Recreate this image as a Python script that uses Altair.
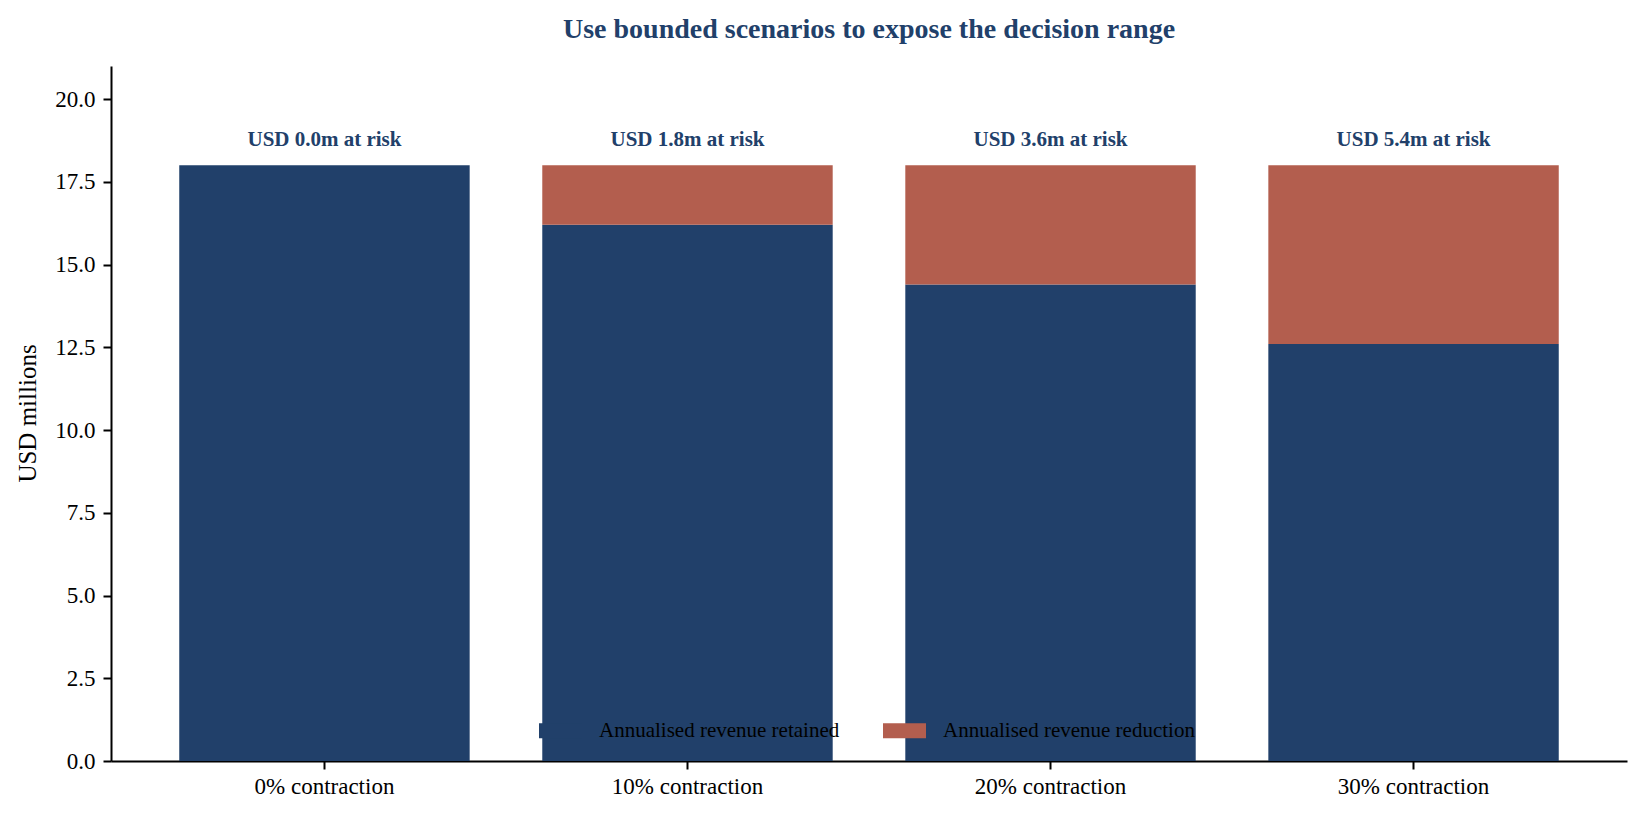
import altair as alt
import pandas as pd

scenarios = ["0% contraction", "10% contraction", "20% contraction", "30% contraction"]
retained = [18.0, 16.2, 14.4, 12.6]
reduction = [0.0, 1.8, 3.6, 5.4]
risk_labels = ["USD 0.0m at risk", "USD 1.8m at risk", "USD 3.6m at risk", "USD 5.4m at risk"]
series = ["Annualised revenue retained", "Annualised revenue reduction"]
y_ticks = [0.0, 2.5, 5.0, 7.5, 10.0, 12.5, 15.0, 17.5, 20.0]

NAVY = "#21406a"
RUST = "#b35e4e"
FONT = "Liberation Serif"

rows = []
for s, r, d in zip(scenarios, retained, reduction):
    rows.append({"scenario": s, "series": series[0], "lo": 0.0, "hi": r})
    rows.append({"scenario": s, "series": series[1], "lo": r, "hi": r + d})
df = pd.DataFrame(rows)
lab_df = pd.DataFrame({
    "scenario": scenarios,
    "total": [r + d for r, d in zip(retained, reduction)],
    "label": risk_labels,
})

x_enc = alt.X(
    "scenario:N",
    sort=scenarios,
    scale=alt.Scale(paddingInner=0.2, paddingOuter=0.188),
    axis=alt.Axis(
        title=None, labelAngle=0, labelFont=FONT, labelFontSize=23, labelColor="#000000",
        tickSize=8, tickWidth=2, tickColor="#000000", domainColor="#000000", domainWidth=2,
        labelPadding=6, grid=False,
    ),
)

y_scale = alt.Scale(domain=[0, 21], nice=False, zero=True)

bars = alt.Chart(df).mark_bar(strokeWidth=0).encode(
    x=x_enc,
    y=alt.Y(
        "lo:Q",
        scale=y_scale,
        axis=alt.Axis(
            title="USD millions", values=y_ticks, format=".1f", grid=False,
            labelFont=FONT, labelFontSize=23, labelColor="#000000", labelPadding=8,
            tickSize=8, tickWidth=2, tickColor="#000000", domainColor="#000000", domainWidth=2,
            titleFont=FONT, titleFontSize=25, titleFontWeight="normal", titleColor="#000000",
            titleX=-84, titleY=347, titleAngle=270, titleBaseline="middle", titleAlign="center",
        ),
    ),
    y2="hi:Q",
    color=alt.Color(
        "series:N",
        scale=alt.Scale(domain=series, range=[NAVY, RUST]),
        legend=alt.Legend(
            title=None, orient="none", direction="horizontal", legendX=428, legendY=643,
            symbolType="M-1,-0.35H1V0.35H-1Z", symbolSize=1849, symbolStrokeWidth=0,
            symbolOpacity=1, labelFont=FONT, labelFontSize=21, labelColor="#000000",
            labelOffset=17, columnPadding=43, padding=0, labelLimit=400,
        ),
    ),
)

text = alt.Chart(lab_df).mark_text(
    font=FONT, fontSize=21, fontWeight="bold", color=NAVY, dy=-19, baseline="alphabetic",
    align="center",
).encode(
    x=alt.X("scenario:N", sort=scenarios),
    y=alt.Y("total:Q", scale=y_scale),
    text="label:N",
)

chart = alt.layer(bars, text).properties(
    width=1516,
    height=695,
    title=alt.Title(
        "Use bounded scenarios to expose the decision range",
        font=FONT, fontSize=28, fontWeight="bold", color=NAVY, anchor="middle", offset=22,
    ),
    padding={"left": 103, "top": 58, "right": 9, "bottom": 40},
    autosize=alt.AutoSizeParams(type="none"),
).configure_view(stroke=None)

chart.save("out.html", embed_options={"renderer": "svg", "actions": False})
